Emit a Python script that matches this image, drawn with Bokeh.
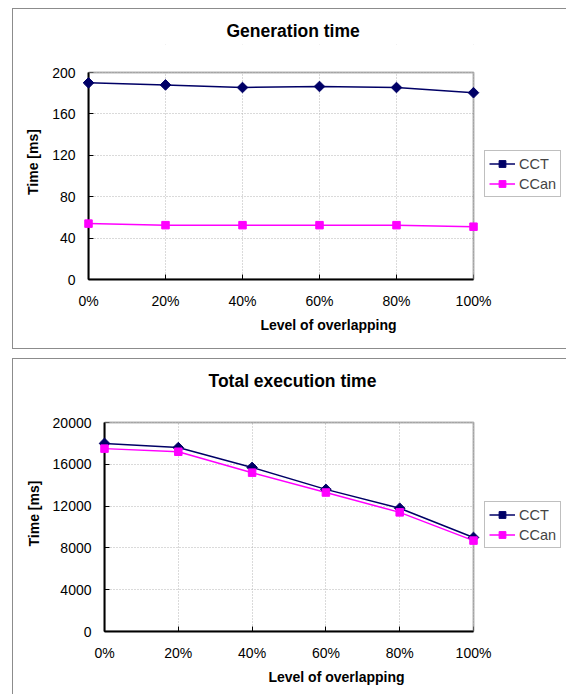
import numpy as np
from bokeh.plotting import figure
from bokeh.models import FixedTicker, Legend, LegendItem, Range1d, BoxAnnotation
from bokeh.embed import file_html
from bokeh.resources import INLINE

# ---------------- data ----------------
levels = [0, 20, 40, 60, 80, 100]
level_labels = ["0%", "20%", "40%", "60%", "80%", "100%"]
series_names = ["CCT", "CCan"]

gen_title = "Generation time"
gen_cct = [190, 188, 185.5, 186.5, 185.5, 180.5]
gen_ccan = [54, 52.5, 52.5, 52.5, 52.5, 51]
gen_ticks = [0, 40, 80, 120, 160, 200]

tot_title = "Total execution time"
tot_cct = [18000, 17600, 15700, 13600, 11800, 9000]
tot_ccan = [17500, 17200, 15200, 13300, 11400, 8700]
tot_ticks = [0, 4000, 8000, 12000, 16000, 20000]

x_label = "Level of overlapping"
y_label = "Time [ms]"

FONT = "Liberation Sans"
CCT_COLOR = "#000066"
CCAN_COLOR = "#FF00FF"
BOX = "#8c8c8c"
FIG_W = 568


def box_style(height, left, top, bottom):
    # thin grey frame (left, top, bottom edges) around each chart panel
    hw = FIG_W - left - 2
    imgs, sizes, poss = [], [], []
    imgs.append(f"linear-gradient({BOX},{BOX})")
    sizes.append(f"1px {min(bottom, height) - top + 1}px")
    poss.append(f"{left}px {top}px")
    imgs.append(f"linear-gradient({BOX},{BOX})")
    sizes.append(f"{hw}px 1px")
    poss.append(f"{left}px {top}px")
    if bottom < height:
        imgs.append(f"linear-gradient({BOX},{BOX})")
        sizes.append(f"{hw}px 1px")
        poss.append(f"{left}px {bottom}px")
    return {
        "background-image": ", ".join(imgs),
        "background-size": ", ".join(sizes),
        "background-position": ", ".join(poss),
        "background-repeat": ", ".join(["no-repeat"] * len(imgs)),
        "background-color": "white",
    }


def make_chart(title, cct, ccan, yticks, height, plot_left, plot_right, plot_top, plot_bottom,
               frame_top, title_off, title_standoff, title_size, leg_pos, box):
    """plot_* : pixel edges of the plotting area inside this figure."""
    ymax = yticks[-1]
    x_end = levels[-1] * (FIG_W - plot_left) / (plot_right - plot_left)
    y_end = ymax * (plot_bottom - frame_top) / (plot_bottom - plot_top)
    p = figure(width=FIG_W, height=height, output_backend="svg", toolbar_location=None,
               x_range=Range1d(levels[0], x_end), y_range=Range1d(yticks[0], y_end),
               min_border_left=plot_left, min_border_right=0,
               min_border_top=frame_top, min_border_bottom=height - plot_bottom,
               styles=box_style(height, *box))
    p.background_fill_color = "white"
    p.border_fill_color = None
    p.outline_line_color = None

    p.title.text = title
    p.title.align = "left"
    p.title.offset = title_off
    p.title.standoff = title_standoff
    p.title.text_font = FONT
    p.title.text_font_size = title_size
    p.title.text_font_style = "bold"
    p.title.text_color = "black"

    # axes
    p.xaxis.ticker = FixedTicker(ticks=levels)
    p.xaxis.major_label_overrides = {lv: lab for lv, lab in zip(levels, level_labels)}
    p.xaxis.bounds = (levels[0], levels[-1])
    p.yaxis.ticker = FixedTicker(ticks=yticks)
    p.yaxis.major_label_overrides = {t: str(t) for t in yticks}
    p.yaxis.bounds = (yticks[0], ymax)
    for ax in (p.xaxis, p.yaxis):
        ax.axis_line_color = "black"
        ax.axis_line_width = 2
        ax.major_tick_in = 5
        ax.major_tick_out = 0
        ax.major_tick_line_color = "black"
        ax.minor_tick_line_color = None
        ax.major_label_text_font = FONT
        ax.major_label_text_font_size = "14px"
        ax.major_label_text_color = "black"
        ax.major_label_standoff = 13
        ax.axis_label_text_font = FONT
        ax.axis_label_text_font_size = "14px"
        ax.axis_label_text_font_style = "bold"
        ax.axis_label_text_color = "black"
    p.xaxis.axis_label_standoff = 5
    p.yaxis.axis_label_standoff = 8
    p.xaxis.axis_label = x_label
    p.yaxis.axis_label = y_label

    # grid
    for g in (p.xgrid, p.ygrid):
        g.grid_line_color = "#b4b4b4"
        g.grid_line_dash = "1 2"
        g.grid_line_width = 1

    # series
    l1 = p.line(levels, cct, line_color=CCT_COLOR, line_width=1.5)
    s1 = p.scatter(levels, cct, marker="square", angle=np.pi / 4, size=7.5,
                   fill_color=CCT_COLOR, line_color=CCT_COLOR, level="overlay")
    l2 = p.line(levels, ccan, line_color=CCAN_COLOR, line_width=1.5)
    s2 = p.scatter(levels, ccan, marker="square", size=7.5,
                   fill_color=CCAN_COLOR, line_color=CCAN_COLOR, level="overlay")

    # blank areas outside the plotting area, and the plot-area border
    p.add_layout(BoxAnnotation(left=levels[-1], fill_color="white", fill_alpha=1,
                               line_alpha=0))
    p.add_layout(BoxAnnotation(bottom=ymax, fill_color="white", fill_alpha=1,
                               line_alpha=0))
    p.add_layout(BoxAnnotation(left=levels[0], right=levels[-1], bottom=yticks[0], top=ymax,
                               fill_alpha=0, line_color="black", line_width=2))

    legend = Legend(items=[LegendItem(label=series_names[0], renderers=[l1, s1]),
                           LegendItem(label=series_names[1], renderers=[l2, s2])],
                    location=leg_pos, padding=4, spacing=3, margin=0,
                    label_height=17, glyph_height=17, glyph_width=26, label_standoff=4,
                    label_text_font=FONT, label_text_font_size="14.5px",
                    border_line_color="#808080", border_line_width=1,
                    background_fill_color="white", background_fill_alpha=1)
    p.add_layout(legend, "center")
    return p


# pixel geometry of each figure (page has no margin; figures stacked at y=0 and y=353)
top = make_chart(gen_title, gen_cct, gen_ccan, gen_ticks, 353,
                 88, 473, 72, 279, 44, 138, 8, "17.5px", (396, 82), (12, 8, 348))
bottom = make_chart(tot_title, tot_cct, tot_ccan, tot_ticks, 341,
                    104, 473, 69, 278, 42, 104, 9, "17.5px", (380, 83), (12, 5, 9999))

open("out.html", "w").write(file_html([top, bottom], INLINE))
